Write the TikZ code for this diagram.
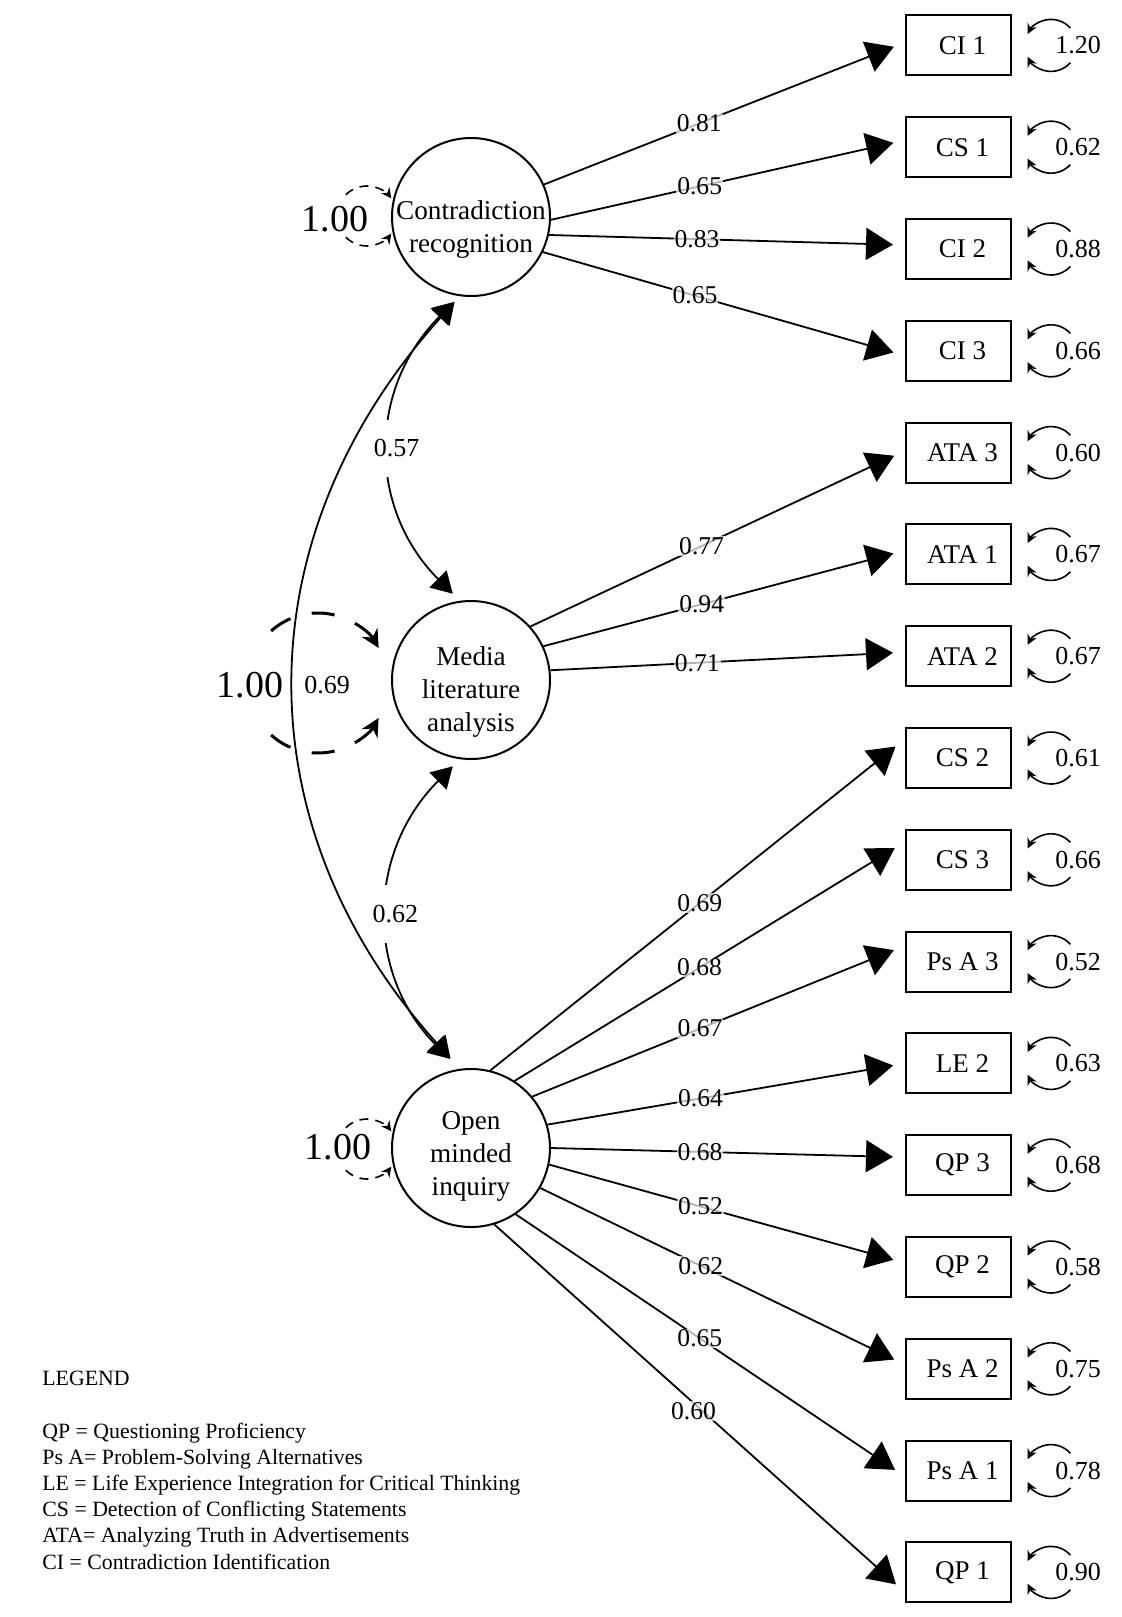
\documentclass[tikz,border=0pt]{standalone}
\usepackage{fontspec}
\setmainfont{Liberation Serif}
\usetikzlibrary{arrows.meta,calc}
\begin{document}
\begin{tikzpicture}[x=0.5pt,y=0.5pt,
  lat/.style={circle,draw,line width=1pt,minimum size=79pt,inner sep=0pt},
  lattext/.style={align=center,inner sep=0pt,font=\fontsize{13.6}{16.5}\selectfont},
  ind/.style={draw,line width=1pt,minimum width=52.5pt,minimum height=30pt,inner sep=0pt,font=\fontsize{13.5}{16}\selectfont,execute at begin node=\hspace*{4pt}},
  load/.style={line width=0.9pt,-{Triangle[length=13.5pt,width=16pt]},shorten >=6pt},
  lab/.style={font=\fontsize{12.8}{14}\selectfont,fill=white,fill opacity=0.7,text opacity=1,inner sep=0.5pt},
  cov/.style={line width=0.9pt,{Triangle[length=10.5pt,width=12pt]}-{Triangle[length=10.5pt,width=12pt]}},
  covlab/.style={font=\fontsize{13}{14}\selectfont,fill=white,inner xsep=1pt,inner ysep=10pt},
  resid/.style={line width=0.8pt,-{Stealth[length=5pt,width=5pt]}},
  rlab/.style={font=\fontsize{13}{14}\selectfont,inner sep=0pt},
  var/.style={line width=0.8pt,dash pattern=on 4.5pt off 3.5pt,-{Stealth[length=5pt,width=5pt]}},
  bigvar/.style={line width=1.5pt,dash pattern=on 11.5pt off 11pt,-{Stealth[length=9pt,width=9pt]}},
  biglab/.style={font=\fontsize{19}{20}\selectfont,inner sep=0pt},
  leg/.style={font=\fontsize{10.9}{13}\selectfont,inner sep=0pt,anchor=base west},
  ]
\useasboundingbox (0,0) rectangle (1122,-1617);

% latent variables
\node[lat] (CR)  at (471,-217)  {};
\node[lat] (MLA) at (471,-680)  {};
\node[lat] (OMI) at (471,-1148) {};
\node[lattext] (CRt)  at ($(CR)+(0,-12)$)  {Contradiction\\recognition};
\node[lattext] (MLAt) at ($(MLA)+(0,-12)$) {Media\\literature\\analysis};
\node[lattext] (OMIt) at ($(OMI)+(0,-8)$)  {Open\\minded\\inquiry};

% indicators with residuals
\foreach \n/\yy/\lab/\v in {CI1/45.4/CI 1/1.20, CS1/147.2/CS 1/0.62, CI2/249/CI 2/0.88, CI3/350.8/CI 3/0.66, ATA3/452.6/ATA 3/0.60, ATA1/554.4/ATA 1/0.67, ATA2/656.2/ATA 2/0.67, CS2/758/CS 2/0.61, CS3/859.8/CS 3/0.66, PsA3/961.6/Ps A 3/0.52, LE2/1063.4/LE 2/0.63, QP3/1165.2/QP 3/0.68, QP2/1267/QP 2/0.58, PsA2/1368.8/Ps A 2/0.75, PsA1/1470.6/Ps A 1/0.78, QP1/1572.4/QP 1/0.90}{
  \node[ind] (\n) at (958.5,-\yy) {\lab};
  \coordinate (\n r) at ($(\n.east)+(39,0)$);
  \draw[resid] ($(\n r)+(42:13pt)$) arc[start angle=42,end angle=154,radius=13pt];
  \draw[resid] ($(\n r)+(-42:13pt)$) arc[start angle=-42,end angle=-154,radius=13pt];
  \node[rlab] (\n v) at ($(\n r)+(27,0)$) {\v};
}

% loadings: Contradiction recognition
\draw[load] (CR.24)  -- ([yshift=1.5pt]CI1.west) node[lab,pos=0.43]  (l1) {0.81};
\draw[load] (CR.-2)  -- ([yshift=3.5pt]CS1.west) node[lab,pos=0.42]  (l2) {0.65};
\draw[load] (CR.-13) -- ([yshift=2pt]CI2.west)   node[lab,pos=0.416] (l3) {0.83};
\draw[load] (CR.-26) -- ([yshift=-2.5pt]CI3.west) node[lab,pos=0.42] (l4) {0.65};
% Media literature analysis
\draw[load] (MLA.42) -- ([yshift=1pt]ATA3.west) node[lab,pos=0.457] (l5) {0.77};
\draw[load] (MLA.25) -- ([yshift=2pt]ATA1.west) node[lab,pos=0.4375] (l6) {0.94};
\draw[load] (MLA.7)  -- ([yshift=2pt]ATA2.west) node[lab,pos=0.414] (l7) {0.71};
% Open minded inquiry
\draw[load] (OMI.76)  -- ([yshift=9.5pt]CS2.west) node[lab,pos=0.505] (l8) {0.69};
\draw[load] (OMI.57)  -- ([yshift=9pt]CS3.west)   node[lab,pos=0.474] (l9) {0.68};
\draw[load] (OMI.40)  -- ([yshift=8pt]PsA3.west)  node[lab,pos=0.45]  (l10) {0.67};
\draw[load] (OMI.17.5) -- (LE2.west)              node[lab,pos=0.428] (l11) {0.64};
\draw[load] (OMI.0)   -- ([yshift=4pt]QP3.west)   node[lab,pos=0.421] (l12) {0.68};
\draw[load] (OMI.-12) -- ([yshift=2pt]QP2.west)   node[lab,pos=0.425] (l13) {0.52};
\draw[load] (OMI.-30) -- ([yshift=2pt]PsA2.west)  node[lab,pos=0.44]  (l14) {0.62};
\draw[load] (OMI.-56) -- ([yshift=-3pt]PsA1.west) node[lab,pos=0.473] (l15) {0.65};
\draw[load] (OMI.-73) -- ([yshift=-10pt]QP1.west) node[lab,pos=0.485,yshift=-4pt] (l16) {0.60};

% covariances
\draw[cov,shorten <=4pt,shorten >=7pt] (CR.262) to[out=228,in=132,looseness=1.08] (OMI.98);
\draw[cov,shorten <=4pt,shorten >=5pt] (CR.262) to[out=225,in=135,looseness=1.1] node[covlab,xshift=3pt] (l57) {0.57} (MLA.98);
\draw[cov,shorten <=5pt,shorten >=7pt] (MLA.262) to[out=225,in=135,looseness=1.1] node[covlab,xshift=3pt] (l62) {0.62} (OMI.98);

% latent variances
\coordinate (crv) at (367,-216);
\draw[var] ($(crv)+(135:15pt)$) arc[start angle=135,end angle=36,radius=15pt];
\draw[var] ($(crv)+(-135:15pt)$) arc[start angle=-135,end angle=-36,radius=15pt];
\node[biglab] (v1) at (335,-219) {1.00};

\coordinate (mlv) at (318,-683);
\draw[bigvar] ($(mlv)+(132:35pt)$) arc[start angle=132,end angle=30,radius=35pt];
\draw[bigvar] ($(mlv)+(-132:35pt)$) arc[start angle=-132,end angle=-30,radius=35pt];
\node[biglab] (v2) at (250,-685) {1.00};
\node[rlab] (v69) at (327,-685) {0.69};

\coordinate (omv) at (367,-1149);
\draw[var] ($(omv)+(135:15pt)$) arc[start angle=135,end angle=36,radius=15pt];
\draw[var] ($(omv)+(-135:15pt)$) arc[start angle=-135,end angle=-36,radius=15pt];
\node[biglab] (v3) at (338,-1147) {1.00};

% legend
\node[leg] (lg0) at (42,-1385.5) {LEGEND};
\node[leg] (lg1) at (42,-1438)   {QP = Questioning Proficiency};
\node[leg] (lg2) at (42,-1464.2) {Ps A= Problem-Solving Alternatives};
\node[leg] (lg3) at (42,-1490.4) {LE = Life Experience Integration for Critical Thinking};
\node[leg] (lg4) at (42,-1516.6) {CS = Detection of Conflicting Statements};
\node[leg] (lg5) at (42,-1542.8) {ATA= Analyzing Truth in Advertisements};
\node[leg] (lg6) at (42,-1569)   {CI = Contradiction Identification};
\end{tikzpicture}
\end{document}
